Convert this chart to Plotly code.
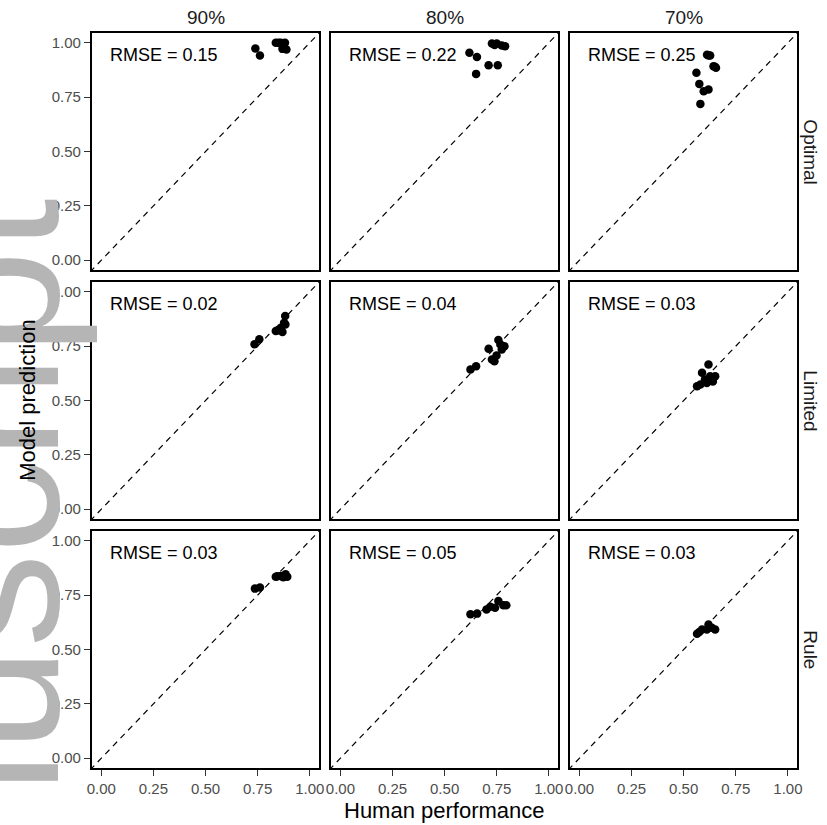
import plotly.graph_objects as go

# ---------------- data ----------------
conditions = ["90%", "80%", "70%"]
models = ["Optimal", "Limited", "Rule"]
rmse_labels = [["0.15", "0.22", "0.25"],
               ["0.02", "0.04", "0.03"],
               ["0.03", "0.05", "0.03"]]

tick_vals = [0.0, 0.25, 0.5, 0.75, 1.0]
tick_text = ["0.00", "0.25", "0.50", "0.75", "1.00"]

# Optimal model
optimal_90_human = [0.739, 0.761, 0.837, 0.861, 0.881, 0.869, 0.888, 0.850, 0.875]
optimal_90_model = [0.974, 0.941, 1.000, 1.000, 1.000, 0.972, 0.969, 1.000, 0.985]
optimal_80_human = [0.619, 0.655, 0.727, 0.750, 0.774, 0.790, 0.711, 0.755, 0.651, 0.740]
optimal_80_model = [0.954, 0.935, 0.997, 0.997, 0.988, 0.984, 0.897, 0.897, 0.857, 0.990]
optimal_70_human = [0.619, 0.627, 0.643, 0.655, 0.561, 0.575, 0.596, 0.619, 0.580, 0.612, 0.650]
optimal_70_model = [0.941, 0.941, 0.892, 0.885, 0.862, 0.811, 0.777, 0.785, 0.719, 0.945, 0.890]

# Limited model
limited_90_human = [0.735, 0.758, 0.837, 0.861, 0.877, 0.882, 0.850, 0.883, 0.869]
limited_90_model = [0.759, 0.782, 0.820, 0.835, 0.858, 0.889, 0.823, 0.850, 0.815]
limited_80_human = [0.624, 0.651, 0.711, 0.758, 0.768, 0.727, 0.749, 0.774, 0.787, 0.739]
limited_80_model = [0.643, 0.658, 0.738, 0.778, 0.758, 0.689, 0.707, 0.735, 0.749, 0.680]
limited_70_human = [0.619, 0.588, 0.564, 0.580, 0.627, 0.651, 0.611, 0.640, 0.602]
limited_70_model = [0.666, 0.628, 0.566, 0.574, 0.612, 0.612, 0.581, 0.587, 0.597]

# Rule model
rule_90_human = [0.737, 0.761, 0.837, 0.861, 0.884, 0.892, 0.873, 0.845]
rule_90_model = [0.780, 0.785, 0.835, 0.838, 0.846, 0.835, 0.832, 0.837]
rule_80_human = [0.624, 0.656, 0.719, 0.758, 0.782, 0.742, 0.796, 0.701]
rule_80_model = [0.662, 0.665, 0.697, 0.723, 0.703, 0.692, 0.703, 0.684]
rule_70_human = [0.564, 0.588, 0.619, 0.651, 0.611, 0.575, 0.635]
rule_70_model = [0.572, 0.592, 0.615, 0.592, 0.592, 0.580, 0.600]

panel_data = [
    [(optimal_90_human, optimal_90_model), (optimal_80_human, optimal_80_model), (optimal_70_human, optimal_70_model)],
    [(limited_90_human, limited_90_model), (limited_80_human, limited_80_model), (limited_70_human, limited_70_model)],
    [(rule_90_human, rule_90_model), (rule_80_human, rule_80_model), (rule_70_human, rule_70_model)],
]

# ---------------- layout geometry ----------------
W, H = 827, 825
col_px = [(88, 318), (330, 560), (572, 802)]
row_px = [(33, 270), (282, 519), (531, 768)]
FONT = "Liberation Sans, Arial, sans-serif"
RNG = [-0.045, 1.045]

fig = go.Figure()
layout = {}
annotations = []

# watermark (behind everything else in annotation order)
annotations.append(dict(
    text="Author Manuscript", textangle=-90, xref="paper", yref="paper",
    x=95 / W, y=1 - 197 / H, xanchor="right", yanchor="top", showarrow=False,
    font=dict(family=FONT, size=188, color="#b5b5b5"), borderpad=0))

for i, m in enumerate(models):
    for j, c in enumerate(conditions):
        k = i * 3 + j + 1
        sx = "" if k == 1 else str(k)
        xname, yname = "x" + sx, "y" + sx
        hx, my = panel_data[i][j]
        fig.add_trace(go.Scatter(
            x=[-0.2, 1.2], y=[-0.2, 1.2], mode="lines",
            line=dict(color="black", width=1.2, dash="6px,5px"),
            xaxis=xname, yaxis=yname, hoverinfo="skip", showlegend=False))
        fig.add_trace(go.Scatter(
            x=hx, y=my, mode="markers",
            marker=dict(color="black", size=8.5, line=dict(width=0)),
            xaxis=xname, yaxis=yname, showlegend=False))
        bottom = (i == 2)
        left = (j == 0)
        x0, x1 = col_px[j]
        y0, y1 = row_px[i]
        layout["xaxis" + sx] = dict(
            domain=[x0 / W, x1 / W], range=RNG, anchor=yname,
            showline=True, mirror=True, linecolor="black", linewidth=2,
            showgrid=False, zeroline=False,
            tickvals=tick_vals, ticktext=tick_text,
            ticks="outside" if bottom else "", ticklen=6, tickwidth=1.2, tickcolor="#333333",
            showticklabels=bottom,
            tickfont=dict(family=FONT, size=15, color="#4d4d4d"))
        layout["yaxis" + sx] = dict(
            domain=[1 - y1 / H, 1 - y0 / H], range=RNG, anchor=xname,
            showline=True, mirror=True, linecolor="black", linewidth=2,
            showgrid=False, zeroline=False,
            tickvals=tick_vals, ticktext=tick_text,
            ticks="outside" if left else "", ticklen=6, tickwidth=1.2, tickcolor="#333333",
            showticklabels=left,
            tickfont=dict(family=FONT, size=15, color="#4d4d4d"))
        annotations.append(dict(
            text="RMSE = " + rmse_labels[i][j], xref=xname, yref=yname,
            x=0.30, y=0.946, xanchor="center", yanchor="middle", showarrow=False,
            font=dict(family=FONT, size=18, color="black")))

# strip labels
for j, c in enumerate(conditions):
    x0, x1 = col_px[j]
    annotations.append(dict(
        text=c, xref="paper", yref="paper", x=(x0 + x1) / 2 / W, y=1 - 17 / H,
        xanchor="center", yanchor="middle", showarrow=False,
        font=dict(family=FONT, size=19, color="#1a1a1a")))
for i, m in enumerate(models):
    y0, y1 = row_px[i]
    annotations.append(dict(
        text=m, xref="paper", yref="paper", x=815 / W, y=1 - (y0 + y1) / 2 / H,
        xanchor="center", yanchor="middle", textangle=90, showarrow=False,
        font=dict(family=FONT, size=19, color="#1a1a1a")))

# axis titles
annotations.append(dict(
    text="Human performance", xref="paper", yref="paper", x=445 / W, y=1 - 810 / H,
    xanchor="center", yanchor="middle", showarrow=False,
    font=dict(family=FONT, size=22, color="black")))
annotations.append(dict(
    text="Model prediction", xref="paper", yref="paper", x=22 / W, y=1 - 400 / H,
    xanchor="center", yanchor="middle", textangle=-90, showarrow=False,
    font=dict(family=FONT, size=22, color="black")))

fig.update_layout(
    width=W, height=H, margin=dict(l=0, r=0, t=0, b=0),
    paper_bgcolor="white", plot_bgcolor="white",
    annotations=annotations, showlegend=False, **layout)

fig.write_html("out.html")
